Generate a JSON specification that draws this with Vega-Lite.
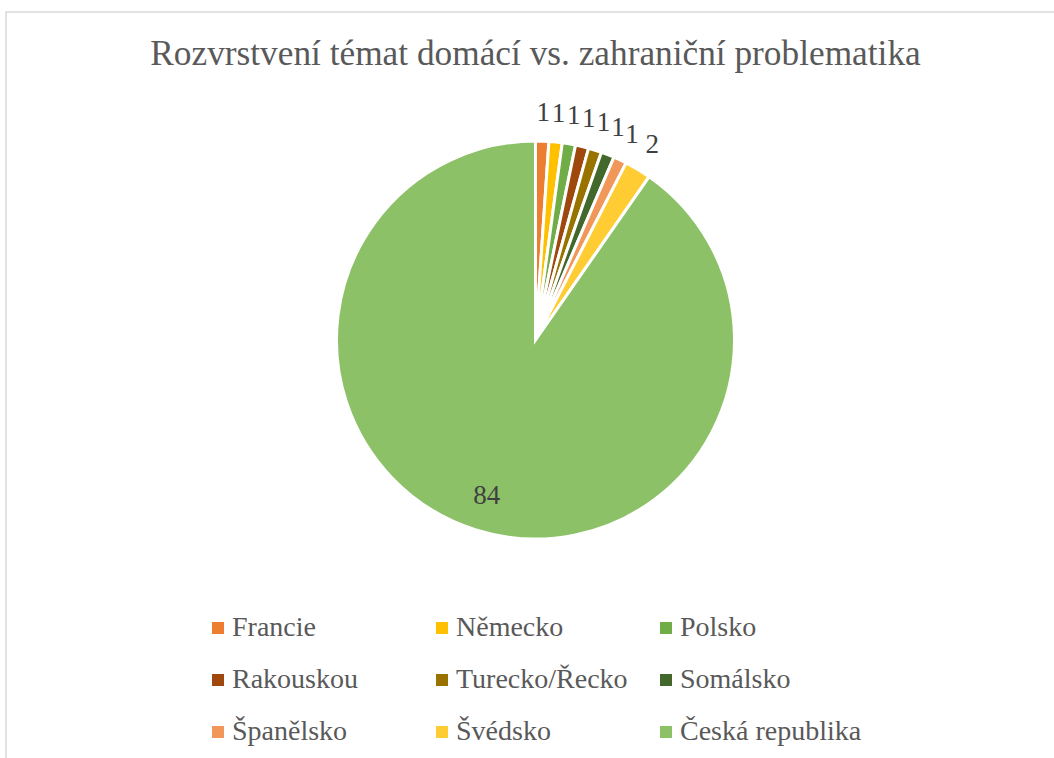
{
  "$schema": "https://vega.github.io/schema/vega-lite/v6.json",
  "width": 1053,
  "height": 751,
  "autosize": {"type": "none"},
  "padding": {"left": 6, "top": 12, "right": -5, "bottom": -5},
  "background": "white",
  "view": {"stroke": "#D9D9D9", "strokeWidth": 1.5},
  "config": {
    "font": "Liberation Serif"
  },
  "title": {
    "text": "Rozvrstvení témat domácí vs. zahraniční problematika",
    "font": "Liberation Serif",
    "fontSize": 35.3,
    "fontWeight": "normal",
    "color": "#595959",
    "anchor": "middle",
    "offset": -60,
    "dx": 3
  },
  "data": {
    "values": [
      {"i": 1, "zeme": "Francie", "value": 1},
      {"i": 2, "zeme": "Německo", "value": 1},
      {"i": 3, "zeme": "Polsko", "value": 1},
      {"i": 4, "zeme": "Rakouskou", "value": 1},
      {"i": 5, "zeme": "Turecko/Řecko", "value": 1},
      {"i": 6, "zeme": "Somálsko", "value": 1},
      {"i": 7, "zeme": "Španělsko", "value": 1},
      {"i": 8, "zeme": "Švédsko", "value": 2},
      {"i": 9, "zeme": "Česká republika", "value": 84}
    ]
  },
  "encoding": {
    "theta": {"field": "value", "type": "quantitative", "stack": true},
    "order": {"field": "i", "type": "quantitative"}
  },
  "layer": [
    {
      "mark": {"type": "arc", "outerRadius": 199, "stroke": "white", "strokeWidth": 3, "xOffset": 3, "yOffset": -47.5},
      "encoding": {
        "color": {
          "field": "zeme",
          "type": "nominal",
          "sort": null,
          "scale": {
            "domain": ["Francie", "Německo", "Polsko", "Rakouskou", "Turecko/Řecko", "Somálsko", "Španělsko", "Švédsko", "Česká republika"],
            "range": ["#ED7D31", "#FFC000", "#70AD47", "#9E480E", "#997300", "#43682B", "#F1975A", "#FFCD33", "#8CC168"]
          },
          "legend": {
            "title": null,
            "orient": "none",
            "legendX": 198,
            "legendY": 602,
            "columns": 3,
            "gridAlign": "all",
            "direction": "horizontal",
            "symbolType": "square",
            "symbolSize": 144,
            "symbolStrokeWidth": 0,
            "labelFont": "Liberation Serif",
            "labelFontSize": 28,
            "labelColor": "#595959",
            "labelOffset": 0,
            "labelLimit": 400,
            "columnPadding": 14,
            "rowPadding": 24,
            "padding": 0
          }
        }
      }
    },
    {
      "mark": {"type": "text", "radius": 227, "fontSize": 27, "font": "Liberation Serif", "color": "#404040", "xOffset": 3, "yOffset": -47.5},
      "encoding": {
        "text": {"condition": {"test": "datum.value < 50", "field": "value", "type": "quantitative"}, "value": ""}
      }
    },
    {
      "mark": {"type": "text", "radius": 163, "fontSize": 27, "font": "Liberation Serif", "color": "#404040", "xOffset": 3, "yOffset": -47.5},
      "encoding": {
        "text": {"condition": {"test": "datum.value > 50", "field": "value", "type": "quantitative"}, "value": ""}
      }
    }
  ]
}
